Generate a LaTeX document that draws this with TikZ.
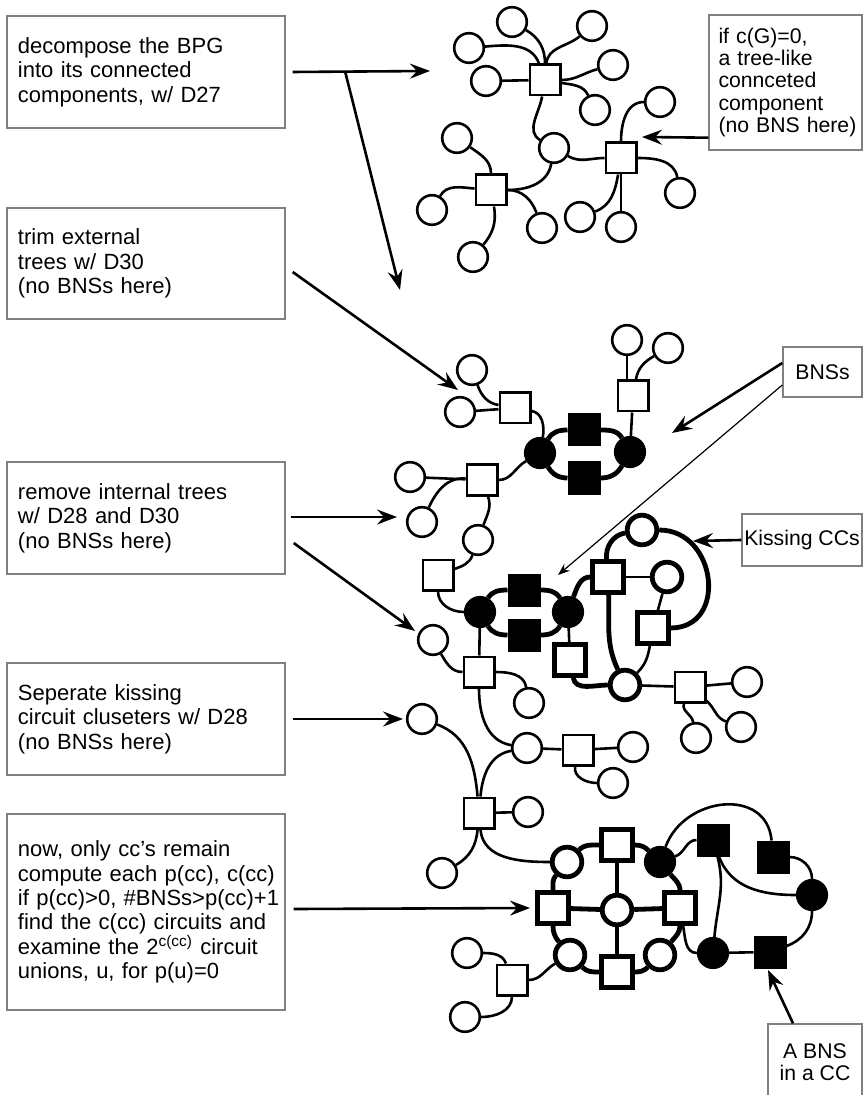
\documentclass[tikz,border=0pt]{standalone}
\usepackage{fontspec}
\setmainfont{Liberation Sans}
\usetikzlibrary{arrows.meta,backgrounds}

\begin{document}
\begin{tikzpicture}[x=0.5pt,y=0.5pt,font=\fontsize{11}{12.2}\selectfont,
  txtbox/.style={draw=black!50,line width=0.7pt,align=left,inner ysep=0pt},
  lbox/.style={txtbox,text width=128pt,inner xsep=5.5pt},
  sbox/.style={txtbox,font=\fontsize{10.6}{11.2}\selectfont},
  arr/.style={-{Stealth[length=10pt,width=7.5pt,inset=3.5pt]},line width=1.3pt},
  thinarr/.style={-{Stealth[length=6pt,width=4.5pt,inset=2pt]},line width=0.6pt},
  vn/.style={circle,draw,fill=white,line width=1.3pt,minimum size=14.8pt,inner sep=0pt},
  cn/.style={rectangle,draw,fill=white,line width=1.3pt,minimum size=15.2pt,inner sep=0pt},
  bv/.style={vn,fill=black},
  bc/.style={cn,fill=black},
  tv/.style={vn,line width=2.4pt},
  tcn/.style={cn,line width=2.4pt},
  ln/.style={line width=1.3pt},
  tk/.style={line width=2.4pt}]
\useasboundingbox (0,0) rectangle (866,-1095);

% step boxes
\node[lbox,minimum height=56pt] (decomp) at (146,-72)
  {decompose the BPG\\into its connected\\components, w/ D27};
\node[lbox,minimum height=55.5pt] (trimext) at (146,-263.5)
  {trim external\\trees w/ D30\\(no BNSs here)};
\node[lbox,minimum height=56pt] (reminn) at (146,-518)
  {remove internal trees\\w/ D28 and D30\\(no BNSs here)};
\node[lbox,minimum height=56pt] (sepkiss) at (146,-719)
  {Seperate kissing\\circuit~cluseters~w/~D28\\(no BNSs here)};
\node[lbox,minimum height=98pt] (onlycc) at (146,-912)
  {now, only cc's remain\\compute~each~p(cc),~c(cc)\\if~p(cc)>0,~\#BNSs>p(cc)+1\\
   find~the~c(cc)~circuits~and\\examine the 2\textsuperscript{c(cc)} circuit\\unions, u, for p(u)=0};

% side notes
\node[sbox,text width=67pt,inner xsep=4.75pt,minimum height=67.5pt] (treelike) at (785.5,-82.5)
  {if c(G)=0,\\a tree-like\\connceted\\component\\(no~BNS~here)};
\node[sbox,align=center,minimum width=39.5pt,minimum height=25pt] (bnslab) at (822.5,-372) {BNSs};
\node[sbox,align=center,inner xsep=1pt,minimum width=60pt,minimum height=26pt] (kisslab) at (802,-540) {Kissing CCs};
\node[sbox,align=center,minimum width=47pt,minimum height=38pt] (bnscc) at (815,-1062) {A BNS\\in a CC};

% arrows
\coordinate (t1) at (430,-71);
\coordinate (br) at (345,-71);
\coordinate (t2) at (400,-290);
\coordinate (t3) at (458,-390);
\coordinate (t4) at (397,-517);
\coordinate (t5) at (415,-631);
\coordinate (t6) at (403,-719);
\coordinate (t7) at (530,-908);
\coordinate (t8) at (642,-137);
\coordinate (t9) at (672,-433);
\coordinate (t10) at (558,-575);
\coordinate (t11) at (693,-541);
\coordinate (t12) at (768,-970);
\draw[arr] ([xshift=3.5pt]decomp.east) -- (t1);
\draw[arr] (br) -- (t2);
\draw[arr] ([xshift=3.5pt,yshift=-4.25pt]trimext.east) -- (t3);
\draw[arr] ([xshift=2.5pt,yshift=0.5pt]reminn.east) -- (t4);
\draw[arr] ([xshift=4pt,yshift=-12.5pt]reminn.east) -- (t5);
\draw[arr] ([xshift=3.5pt]sepkiss.east) -- (t6);
\draw[arr] ([xshift=4pt,yshift=1.5pt]onlycc.east) -- (t7);
\draw[arr] ([yshift=6.5pt]treelike.south west) -- (t8);
\draw[arr] ([yshift=4.5pt]bnslab.west) -- (t9);
\draw[thinarr] ([yshift=-6.5pt]bnslab.west) -- (t10);
\draw[arr] (kisslab.west) -- (t11);
\draw[arr] ([xshift=-11pt]bnscc.north) -- (t12);

% tree-like component
\node[cn] (a1) at (545,-80) {};
\node[vn] (a2) at (512,-22) {};
\node[vn] (a3) at (592,-26) {};
\node[vn] (a4) at (469,-48) {};
\node[vn] (a5) at (613,-65) {};
\node[vn] (a6) at (486,-81) {};
\node[vn] (a7) at (595,-110) {};
\node[vn] (a8) at (554,-148) {};
\node[cn] (a9) at (621,-158) {};
\node[cn] (a10) at (491,-190) {};
\node[vn] (a11) at (660,-102) {};
\node[vn] (a12) at (680,-193) {};
\node[vn] (a13) at (580,-217) {};
\node[vn] (a14) at (621,-227) {};
\node[vn] (a15) at (457,-138) {};
\node[vn] (a16) at (432,-210) {};
\node[vn] (a17) at (542,-228) {};
\node[vn] (a18) at (473,-257) {};

% trimmed graph
\node[vn] (b1) at (472,-370) {};
\node[vn] (b2) at (460,-412) {};
\node[cn] (b3) at (515,-408) {};
\node[bv] (b4) at (540,-453) {};
\node[bc] (b5) at (584,-430) {};
\node[bc] (b6) at (584,-478) {};
\node[bv] (b7) at (630,-452) {};
\node[cn] (b8) at (633,-396) {};
\node[vn] (b9) at (627,-340) {};
\node[vn] (b10) at (668,-348) {};
\node[cn] (b11) at (482,-480) {};
\node[vn] (b12) at (410,-477) {};
\node[vn] (b13) at (422,-522) {};
\node[vn] (b14) at (478,-540) {};

\node[cn] (c1) at (438,-575) {};
\node[bv] (c2) at (480,-612) {};
\node[bc] (c3) at (524,-590) {};
\node[bc] (c4) at (524,-635) {};
\node[bv] (c5) at (568,-612) {};
\node[cn] (c6) at (479,-672) {};
\node[vn] (c7) at (433,-640) {};
\node[vn] (c8) at (529,-703) {};
\node[tcn] (c9) at (570,-660) {};
\node[tcn] (c10) at (608,-577) {};
\node[tv] (c11) at (642,-530) {};
\node[tv] (c12) at (667,-577) {};
\node[tcn] (c13) at (653,-628) {};
\node[tv] (c14) at (625,-685) {};
\node[cn] (c15) at (690,-687) {};
\node[vn] (c16) at (747,-682) {};
\node[vn] (c17) at (696,-738) {};
\node[vn] (c18) at (741,-727) {};
\node[vn] (c19) at (527,-748) {};
\node[cn] (c20) at (578,-750) {};
\node[vn] (c21) at (633,-747) {};
\node[vn] (c22) at (613,-783) {};
\node[vn] (c23) at (422,-719) {};
\node[cn] (c24) at (479,-813) {};
\node[vn] (c25) at (528,-812) {};

\node[vn] (d1) at (442,-873) {};
\node[tv] (d2) at (567,-862) {};
\node[tcn] (d3) at (617,-845) {};
\node[bv] (d4) at (660,-862) {};
\node[tcn] (d5) at (553,-908) {};
\node[tv] (d6) at (617,-910) {};
\node[tcn] (d7) at (680,-908) {};
\node[tv] (d8) at (570,-955) {};
\node[tcn] (d9) at (617,-972) {};
\node[tv] (d10) at (660,-955) {};
\node[bc] (d11) at (713,-840) {};
\node[bc] (d12) at (773,-857) {};
\node[bv] (d13) at (812,-895) {};
\node[bv] (d14) at (713,-953) {};
\node[bc] (d15) at (770,-952) {};
\node[cn] (d16) at (512,-980) {};
\node[vn] (d17) at (467,-953) {};
\node[vn] (d18) at (465,-1017) {};

\begin{scope}[on background layer]
\draw[ln] (a1) to[out=90,in=-30] (a2);
\draw[ln] (a1) to[out=85,in=-140] (a3);
\draw[ln] (a1) to[out=110,in=5] (a4);
\draw[ln] (a1) -- (a6);
\draw[ln] (a1) to[out=0,in=-165] (a5);
\draw[ln] (a1) to[out=-10,in=115] (a7);
\draw[ln] (a1) to[out=-100,in=150] (a8);
\draw[ln] (a8) to[out=-30,in=180] (a9);
\draw[ln] (a8) to[out=-100,in=0] (a10);
\draw[ln] (a9) to[out=90,in=180] (a11);
\draw[ln] (a9) to[out=0,in=100] (a12);
\draw[ln] (a9) to[out=-100,in=20] (a13);
\draw[ln] (a9) -- (a14);
\draw[ln] (a10) to[out=90,in=-35] (a15);
\draw[ln] (a10) to[out=175,in=60] (a16);
\draw[ln] (a10) to[out=0,in=110] (a17);
\draw[ln] (a10) to[out=-80,in=50] (a18);

\draw[ln] (b1) to[out=-70,in=170] (b3);
\draw[ln] (b2) -- (b3);
\draw[ln] (b3) to[out=-10,in=80] (b4);
\draw[ln] (b4) to[out=-150,in=0] (b11);
\draw[ln] (b11) -- (b12);
\draw[ln] (b11) to[out=175,in=65] (b13);
\draw[ln] (b11) to[out=-70,in=70] (b14);
\draw[ln] (b8) -- (b7);
\draw[ln] (b9) -- (b9 |- b8.north);
\draw[ln] (b8) to[out=80,in=-150] (b10);
\draw[tk] (b4) to[out=60,in=180] (b5) to[out=0,in=120] (b7)
  to[out=-120,in=0] (b6) to[out=180,in=-60] (b4);

\draw[ln] (b14) to[out=-110,in=20] (c1);
\draw[ln] (c1) to[out=-90,in=180] (c2);
\draw[tk] (c2) to[out=60,in=180] (c3) to[out=0,in=120] (c5)
  to[out=-120,in=0] (c4) to[out=180,in=-60] (c2);
\draw[ln] (c2) -- (c6);
\draw[ln] (c7) to[out=-60,in=180] (c6);
\draw[ln] (c6) to[out=0,in=100] (c8);
\draw[ln] (c6) to[out=-90,in=170] (c19);
\draw[ln] (c5) -- (c9);
\draw[tk] (c5) to[out=70,in=180] (c10);
\draw[tk] (c10) to[out=95,in=-170] (c11);
\draw[tk] (c11) to[out=0,in=0,looseness=1.5] (c13);
\draw[ln] (c10) -- (c12);
\draw[ln] (c12) -- (c13);
\draw[ln] (c13) to[out=-100,in=45] (c14);
\draw[tk] (c10) to[out=-88,in=115] (c14);
\draw[tk] (c9) to[out=-80,in=180] (c14);
\draw[ln] (c14) -- (c15) -- (c16);
\draw[ln] (c15) to[out=-110,in=100] (c17);
\draw[ln] (c15) to[out=-40,in=160] (c18);
\draw[ln] (c19) -- (c20) -- (c21);
\draw[ln] (c20) to[out=-100,in=180] (c22);
\draw[ln] (c23) to[out=-20,in=95] (c24);
\draw[ln] (c19) to[out=-170,in=85] (c24);
\draw[ln] (c24) -- (c25);
\draw[ln] (c24) to[out=-95,in=30] (d1);
\draw[ln] (c24) to[out=-85,in=180] (d2);

\draw[tk] (d5) to[out=90,in=-130] (d2) to[out=45,in=180] (d3) to[out=0,in=135] (d4)
  to[out=-50,in=90] (d7) to[out=-90,in=50] (d10) to[out=-135,in=0] (d9)
  to[out=180,in=-45] (d8) to[out=130,in=-90] (d5);
\draw[tk] (d3) -- (d6) -- (d9);
\draw[tk] (d5) -- (d6) -- (d7);
\draw[ln] (d4) to[out=20,in=180] (d11);
\draw[ln] (d4) to[out=70,in=95,looseness=1.3] (d12);
\draw[ln] (d11) to[out=-70,in=180] (d13);
\draw[ln] (d11) to[out=-75,in=85] (d14);
\draw[ln] (d12) to[out=0,in=90] (d13);
\draw[ln] (d13) to[out=-90,in=20] (d15);
\draw[ln] (d14) -- (d15);
\draw[ln] (d7) to[out=-80,in=180] (d14);
\draw[ln] (d16) to[out=110,in=0] (d17);
\draw[ln] (d16) to[out=-90,in=0] (d18);
\draw[ln] (d16) to[out=0,in=-150] (d8);
\end{scope}
\end{tikzpicture}
\end{document}
